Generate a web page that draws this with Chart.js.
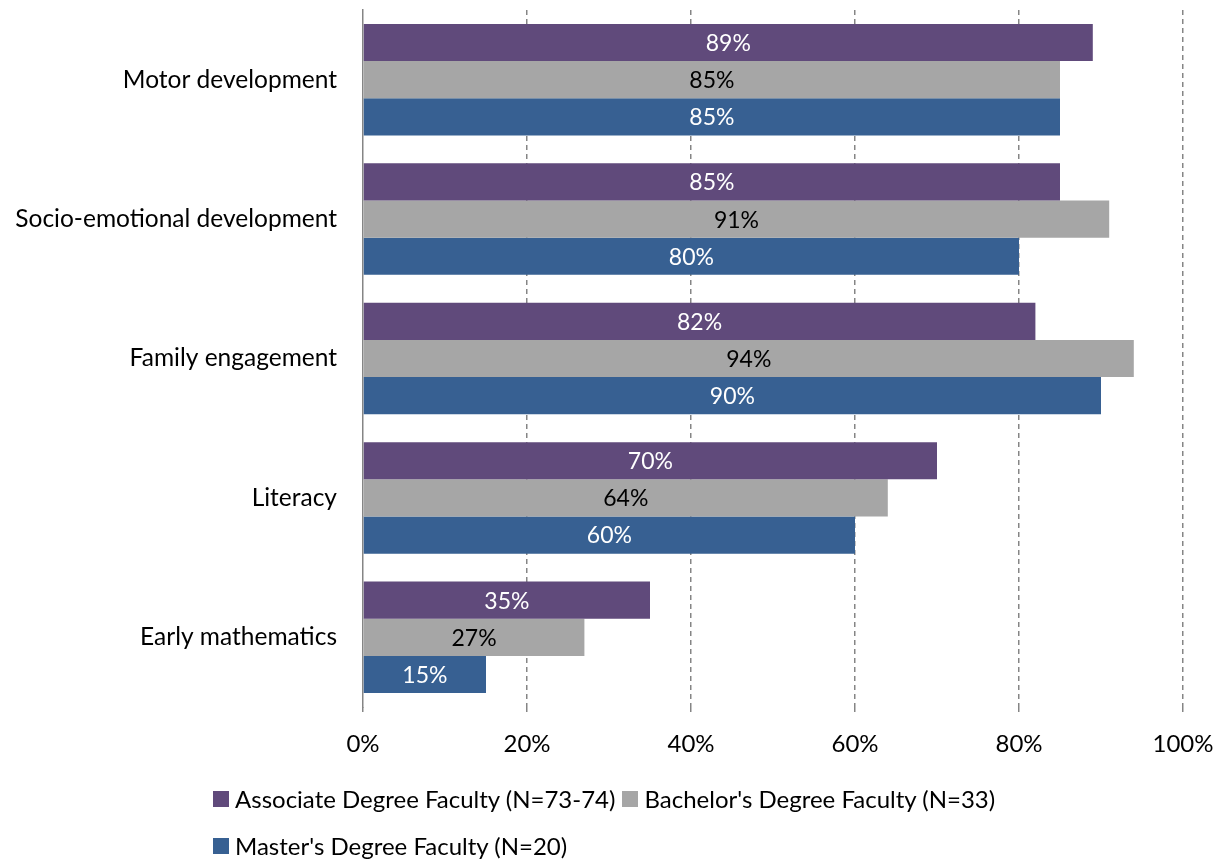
<!DOCTYPE html>
<html><head><meta charset="utf-8">
<script src="https://cdn.jsdelivr.net/npm/chart.js@4.4.1/dist/chart.umd.min.js"></script>
<style>
html,body{margin:0;padding:0;background:#fff;}
#wrap{position:relative;width:1220px;height:861px;overflow:hidden;}
canvas{display:block;}
#legend{position:absolute;left:213px;top:775px;width:1000px;font-family:Lato,"Liberation Sans",sans-serif;font-size:24px;color:#000;}
.li{display:inline-flex;align-items:center;margin-right:7px;}
.row{height:47px;display:flex;align-items:center;}
.sw{width:16px;height:16px;margin-right:6px;display:inline-block;}
</style></head>
<body><div id="wrap"><canvas id="c" width="1220" height="861"></canvas><div id="legend"></div></div>
<script>
const categories = ["Motor development","Socio-emotional development","Family engagement","Literacy","Early mathematics"];
const associate = [89,85,82,70,35];
const bachelor = [85,91,94,64,27];
const master = [85,80,90,60,15];
const seriesNames = ["Associate Degree Faculty (N=73-74)","Bachelor's Degree Faculty (N=33)","Master's Degree Faculty (N=20)"];
const xTicks = [0,20,40,60,80,100];
const colors = ["#604A7B","#A6A6A6","#376092"];
const labelColors = ["#ffffff","#000000","#ffffff"];
const FONT = "Lato";

const labelPlugin = {
  id:'barLabels',
  afterDatasetsDraw(chart){
    const ctx = chart.ctx;
    chart.data.datasets.forEach((ds,i)=>{
      const meta = chart.getDatasetMeta(i);
      meta.data.forEach((bar,j)=>{
        const x0 = bar.base, x1 = bar.x;
        ctx.save();
        ctx.font = "23px " + FONT;
        ctx.fillStyle = labelColors[i];
        ctx.textAlign = 'center';
        ctx.textBaseline = 'middle';
        ctx.fillText(ds.data[j] + "%", (x0+x1)/2, bar.y + 1);
        ctx.restore();
      });
    });
  }
};

const chart = new Chart(document.getElementById('c'), {
  type:'bar',
  data:{
    labels: categories,
    datasets:[associate,bachelor,master].map((d,i)=>({
      label: seriesNames[i], data: d, backgroundColor: colors[i],
      categoryPercentage: 0.8, barPercentage: 1.0, borderWidth:0
    }))
  },
  options:{
    indexAxis:'y',
    responsive:false,
    animation:false,
    layout:{padding:{left:0,right:37,top:10,bottom:94}},
    plugins:{legend:{display:false},tooltip:{enabled:false}},
    scales:{
      x:{
        min:0,max:100,
        afterBuildTicks(scale){ scale.ticks = xTicks.map(v=>({value:v})); },
        afterFit(scale){ scale.height = 60; scale.paddingLeft = 0; scale.paddingRight = 0; },
        ticks:{font:{family:FONT,size:24},color:'#000',padding:18,callback:v=>v+'%'},
        grid:{color:ctx=>ctx.tick && ctx.tick.value===0?'rgba(0,0,0,0)':'#858585',lineWidth:1.5,tickLength:5,tickColor:'#858585',tickBorderDash:[5,4],drawTicks:true},
        border:{display:false,dash:[5,4]}
      },
      y:{
        afterFit(scale){ scale.width = 363; scale.paddingTop = 0; scale.paddingBottom = 0; },
        ticks:{font:{family:FONT,size:24.5},color:'#000',padding:26},
        grid:{display:false,drawTicks:false},
        border:{display:true,color:'#858585',width:1.5}
      }
    }
  },
  plugins:[labelPlugin]
});

const leg = document.getElementById('legend');
const row1 = document.createElement('div'); row1.className='row';
const row2 = document.createElement('div'); row2.className='row';
seriesNames.forEach((n,i)=>{
  const s = document.createElement('span'); s.className='li';
  s.innerHTML = '<span class="sw" style="background:'+colors[i]+'"></span>';
  s.appendChild(document.createTextNode(n));
  (i<2?row1:row2).appendChild(s);
});
leg.appendChild(row1); leg.appendChild(row2);
</script></body></html>
